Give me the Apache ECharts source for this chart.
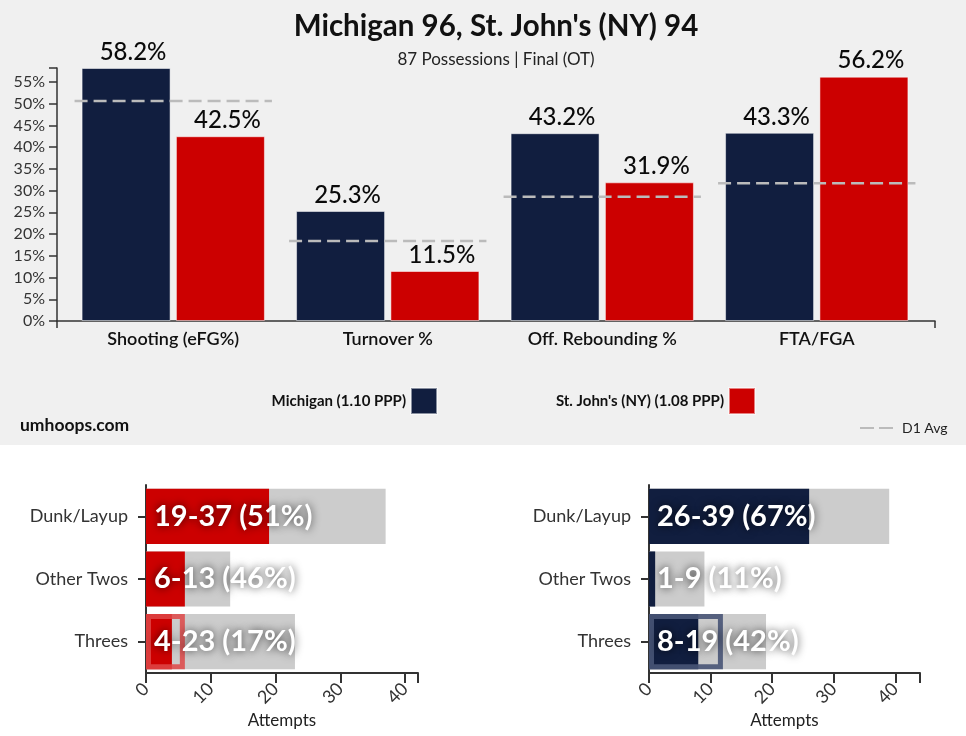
<!DOCTYPE html>
<html lang="en">
<head>
    <meta charset="UTF-8">
    <script src="https://cdn.jsdelivr.net/npm/echarts@6/dist/echarts.min.js"></script>
    <title>Michigan vs St. John's</title>
    <style>
        html, body { margin: 0; padding: 0; background: #fff; }
        #container { width: 966px; height: 736px; }
    </style>
</head>
<body>
    <div id="container"></div>
<script type="text/javascript">
    // four factors
    var factors = ['Shooting (eFG%)', 'Turnover %', 'Off. Rebounding %', 'FTA/FGA'];
    var michigan = [58.2, 25.3, 43.2, 43.3];
    var stjohns = [42.5, 11.5, 31.9, 56.2];
    var d1Avg = [50.6, 18.4, 28.6, 31.7];

    // shot breakdown
    var shotTypes = ['Dunk/Layup', 'Other Twos', 'Threes'];
    var sjMakes = [19, 6, 4];
    var sjAtt = [37, 13, 23];
    var sjEff = [null, null, 6];
    var umMakes = [26, 1, 8];
    var umAtt = [39, 9, 19];
    var umEff = [null, null, 12];
    var attTicks = [0, 10, 20, 30, 40];

    var NAVY = '#111e3f';
    var RED = '#cc0000';
    var FONT = 'Lato, "Open Sans", sans-serif';

    var dom = document.getElementById('container');
    var myChart = echarts.init(dom, null, { renderer: 'canvas' });

    function shotLabel(makes, att) {
        return function (p) {
            var i = p.dataIndex;
            return makes[i] + '-' + att[i] + ' (' + Math.round(makes[i] / att[i] * 100) + '%)';
        };
    }

    var bottomLabel = function (makes, att) {
        return {
            show: true,
            position: 'insideLeft',
            distance: 8,
            formatter: shotLabel(makes, att),
            fontFamily: FONT,
            fontSize: 29,
            fontWeight: 'bold',
            color: '#fff',
            textShadowColor: 'rgba(0,0,0,0.75)',
            textShadowBlur: 8
        };
    };

    function bottomX(idx, max) {
        return {
            type: 'value', gridIndex: idx, min: 0, max: max, interval: 10,
            name: 'Attempts', nameLocation: 'middle', nameGap: 39,
            nameTextStyle: { fontFamily: FONT, fontSize: 17, color: '#222' },
            splitLine: { show: false },
            axisLine: { show: true, lineStyle: { color: '#333', width: 2 } },
            axisTick: { show: true, length: 10, lineStyle: { color: '#333', width: 2 } },
            axisLabel: {
                rotate: 45, fontFamily: FONT, fontSize: 18, color: '#333', margin: 13,
                formatter: function (v) { return attTicks.indexOf(v) >= 0 ? v : ''; }
            }
        };
    }

    function bottomY(idx) {
        return {
            type: 'category', gridIndex: idx, data: shotTypes, inverse: true,
            axisLine: { show: true, lineStyle: { color: '#333', width: 2 } },
            axisTick: { show: true, alignWithLabel: true, length: 8, lineStyle: { color: '#333', width: 2 } },
            axisLabel: { fontFamily: FONT, fontSize: 18, color: '#333', margin: 18 }
        };
    }

    var topLabel = {
        show: true, position: 'top', distance: 4, offset: [7, 0], formatter: '{c}%',
        fontFamily: FONT, fontSize: 24, fontWeight: 500, color: '#0a0a0a'
    };

    option = {
        backgroundColor: '#fff',
        animation: false,
        textStyle: { fontFamily: FONT },
        graphic: [{
            type: 'rect', z: -10,
            shape: { x: 0, y: 0, width: 966, height: 445 },
            style: { fill: '#f0f0f0' }
        }],
        title: [{
            text: "Michigan 96, St. John's (NY) 94",
            subtext: '87 Possessions | Final (OT)',
            left: 491, textAlign: 'center', top: 6, itemGap: 10,
            textStyle: { fontFamily: FONT, fontSize: 29.5, fontWeight: 'bold', color: '#111' },
            subtextStyle: { fontFamily: FONT, fontSize: 17, color: '#222' }
        }, {
            text: 'umhoops.com',
            left: 15, top: 411,
            textStyle: { fontFamily: FONT, fontSize: 17.5, fontWeight: 'bold', color: '#111' }
        }],
        legend: [{
            data: ['Michigan (1.10 PPP)'],
            right: 523, top: 382, align: 'right', icon: 'rect',
            itemWidth: 26, itemHeight: 26,
            textStyle: { fontFamily: FONT, fontSize: 15, fontWeight: 'bold', color: '#111' }
        }, {
            data: ["St. John's (NY) (1.08 PPP)"],
            right: 205, top: 382, align: 'right', icon: 'rect',
            itemWidth: 26, itemHeight: 26,
            textStyle: { fontFamily: FONT, fontSize: 15, fontWeight: 'bold', color: '#111' }
        }, {
            data: ['D1 Avg'],
            left: 855, top: 416, align: 'left',
            icon: 'path://M0,0H14V2H0Z M19,0H33V2H19Z',
            itemWidth: 33, itemHeight: 3,
            textStyle: { fontFamily: FONT, fontSize: 14, color: '#222', padding: [0, 0, 0, 4] }
        }],
        grid: [
            { left: 66, right: 42, top: 68, bottom: 415 },
            { left: 146, right: 548, top: 485, bottom: 63 },
            { left: 649, right: 46, top: 485, bottom: 63 },
            { left: 57, right: 31, top: 68, bottom: 415 }
        ],
        xAxis: [{
            type: 'category', gridIndex: 0, data: factors,
            axisLine: { show: false },
            axisTick: { alignWithLabel: true, length: 7, lineStyle: { color: '#333', width: 1.5 } },
            axisLabel: { fontFamily: FONT, fontSize: 18, fontWeight: 600, color: '#111', margin: 9 }
        }, bottomX(1, 42), bottomX(2, 44), {
            // full-width baseline of the top chart, with outer ticks
            type: 'value', gridIndex: 3, min: 0, max: 1, interval: 1,
            splitLine: { show: false },
            axisLine: { show: true, lineStyle: { color: '#333', width: 1.5 } },
            axisTick: { show: true, length: 7, lineStyle: { color: '#333', width: 1.5 } },
            axisLabel: { show: false }
        }],
        yAxis: [{
            type: 'value', gridIndex: 0, offset: 9,
            min: 0, max: function (v) { return v.max; }, interval: 5,
            splitLine: { show: false },
            axisLine: { show: true, lineStyle: { color: '#333', width: 1.5 } },
            axisTick: { show: true, length: 8, lineStyle: { color: '#333', width: 1.5 } },
            axisLabel: {
                fontFamily: FONT, fontSize: 16, color: '#333', margin: 12,
                formatter: function (v) { return v % 5 === 0 ? v + '%' : ''; }
            }
        }, bottomY(1), bottomY(2), {
            type: 'value', gridIndex: 3, show: false, min: 0, max: 1
        }],
        series: [{
            name: 'Michigan (1.10 PPP)', type: 'bar', xAxisIndex: 0, yAxisIndex: 0,
            data: michigan, barWidth: 89, barGap: '6%',
            itemStyle: { color: NAVY, borderColor: 'rgba(255,255,255,0.5)', borderWidth: 1 },
            label: topLabel
        }, {
            name: "St. John's (NY) (1.08 PPP)", type: 'bar', xAxisIndex: 0, yAxisIndex: 0,
            data: stjohns, barWidth: 89,
            itemStyle: { color: RED, borderColor: 'rgba(255,255,255,0.5)', borderWidth: 1 },
            label: topLabel
        }, {
            name: 'D1 Avg', type: 'custom', xAxisIndex: 0, yAxisIndex: 0, z: 5,
            itemStyle: { color: '#bbb' },
            data: d1Avg.map(function (v, i) { return [i, v]; }),
            renderItem: function (params, api) {
                var c = api.coord([api.value(0), api.value(1)]);
                var w = api.size([1, 0])[0] * 0.92;
                return {
                    type: 'line',
                    shape: { x1: c[0] - w / 2, y1: c[1], x2: c[0] + w / 2, y2: c[1] },
                    style: { stroke: '#bbb', lineWidth: 2.5, lineDash: [13, 6] }
                };
            }
        },
        // St. John's shot chart
        {
            type: 'bar', xAxisIndex: 1, yAxisIndex: 1, data: sjAtt, barWidth: '88%',
            itemStyle: { color: '#cccccc' }, label: bottomLabel(sjMakes, sjAtt)
        }, {
            type: 'bar', xAxisIndex: 1, yAxisIndex: 1, data: sjMakes, barWidth: '88%', barGap: '-100%',
            itemStyle: { color: RED }
        }, {
            type: 'bar', xAxisIndex: 1, yAxisIndex: 1, data: sjEff, barWidth: '88%', barGap: '-100%',
            itemStyle: { color: 'rgba(0,0,0,0)', borderColor: 'rgba(222,70,70,0.85)', borderWidth: 5 }
        },
        // Michigan shot chart
        {
            type: 'bar', xAxisIndex: 2, yAxisIndex: 2, data: umAtt, barWidth: '88%',
            itemStyle: { color: '#cccccc' }, label: bottomLabel(umMakes, umAtt)
        }, {
            type: 'bar', xAxisIndex: 2, yAxisIndex: 2, data: umMakes, barWidth: '88%', barGap: '-100%',
            itemStyle: { color: NAVY }
        }, {
            type: 'bar', xAxisIndex: 2, yAxisIndex: 2, data: umEff, barWidth: '88%', barGap: '-100%',
            itemStyle: { color: 'rgba(0,0,0,0)', borderColor: 'rgba(72,84,118,0.9)', borderWidth: 5 }
        }]
    };

    if (option && typeof option === 'object') {
        myChart.setOption(option);
    }

    window.addEventListener('resize', myChart.resize);
</script>
</body>
</html>
